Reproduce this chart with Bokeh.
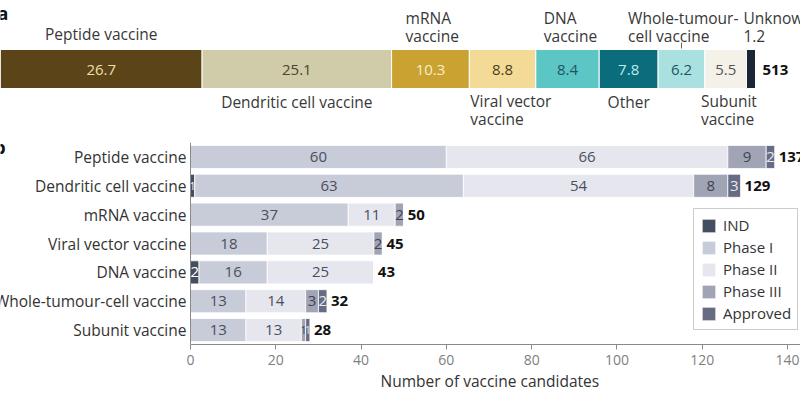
import numpy as np
from bokeh.plotting import figure
from bokeh.models import Range1d, ColumnDataSource, LabelSet, Label, FixedTicker, Span, Title
from bokeh.layouts import column
from bokeh.embed import file_html
from bokeh.resources import INLINE
from bokeh.core.properties import value

# ---------------- Panel a data ----------------
modalities = ["Peptide vaccine", "Dendritic cell vaccine", "mRNA vaccine",
              "Viral vector vaccine", "DNA vaccine", "Other",
              "Whole-tumour-cell vaccine", "Subunit vaccine", "Unknown"]
shares = [26.7, 25.1, 10.3, 8.8, 8.4, 7.8, 6.2, 5.5, 1.2]
share_labels = ["26.7", "25.1", "10.3", "8.8", "8.4", "7.8", "6.2", "5.5", ""]
modality_label_lines = [["Peptide vaccine"], ["Dendritic cell vaccine"], ["mRNA", "vaccine"],
                        ["Viral vector", "vaccine"], ["DNA", "vaccine"], ["Other"],
                        ["Whole-tumour-", "cell vaccine"], ["Subunit", "vaccine"], ["Unknown", "1.2"]]
total_candidates = "513"

# ---------------- Panel b data ----------------
categories = ["Peptide vaccine", "Dendritic cell vaccine", "mRNA vaccine",
              "Viral vector vaccine", "DNA vaccine", "Whole-tumour-cell vaccine",
              "Subunit vaccine"]
ind = [0, 1, 0, 0, 2, 0, 0]
phase1 = [60, 63, 37, 18, 16, 13, 13]
phase2 = [66, 54, 11, 25, 25, 14, 13]
phase3 = [9, 8, 2, 2, 0, 3, 1]
approved = [2, 3, 0, 0, 0, 2, 1]
totals = [137, 129, 50, 45, 43, 32, 28]
stages = ["IND", "Phase I", "Phase II", "Phase III", "Approved"]
x_ticks = [0, 20, 40, 60, 80, 100, 120, 140]
x_title = "Number of vaccine candidates"

FONT = "Open Sans"
LABEL_SIZE = "15.5px"

# ---------------- styles ----------------
mod_colors = ["#5a4418", "#d0cba9", "#c9a232", "#f3da96", "#5cc6c5",
              "#0b6c7c", "#a9e1e0", "#f4f1e8", "#1b2634"]
mod_text_colors = ["#f1dea4", "#4a4532", "#fbeec4", "#4a3f22", "#1d5661",
                   "#b9ecec", "#1d5661", "#555555", "#ffffff"]
# (side, align, pixel offset) for segment name labels
placement = [("above", "center", 0), ("below", "center", 0), ("above", "left", 14),
             ("below", "left", 1), ("above", "left", 8), ("below", "center", 0),
             ("above", "left", -30), ("below", "left", -4), ("above", "left", -3)]

stage_colors = ["#454d60", "#c8cbd8", "#e6e7ee", "#a0a4b4", "#666c83"]
stage_text_colors = ["#ffffff", "#4a4f5e", "#4a4f5e", "#3e4352", "#e8e9f0"]

# ---------------- Panel a figure ----------------
A_SCALE = 7.55  # px per percentage point
top = figure(width=800, height=130, x_range=Range1d(0, 800 / A_SCALE),
             y_range=Range1d(130, 0), output_backend="svg", toolbar_location=None,
             min_border=0, x_axis_location=None, y_axis_location=None,
             outline_line_color=None)
top.grid.visible = False

sh = np.array(shares)
rights = np.cumsum(sh)
lefts = rights - sh
mids = (lefts + rights) / 2

top.hbar(y=68.5, left=lefts, right=rights, height=39, color=mod_colors,
         line_color="white", line_width=1)

top.text(x=mids[:-1], y=[69] * (len(sh) - 1), text=share_labels[:-1],
         text_color=mod_text_colors[:-1], text_align="center", text_baseline="middle",
         text_font=value(FONT), text_font_size="15px")

groups = {"left": ([], [], []), "center": ([], [], [])}
for i, lines in enumerate(modality_label_lines):
    side, align, off = placement[i]
    if side == "above":
        ys = [33] if len(lines) == 1 else [17, 35]
    else:
        ys = [101] if len(lines) == 1 else [100, 118]
    xa = (mids[i] if align == "center" else lefts[i]) + off / A_SCALE
    for ln, yy in zip(lines, ys):
        groups[align][0].append(xa)
        groups[align][1].append(yy)
        groups[align][2].append(ln)
for align, (xs, ys, ts) in groups.items():
    top.text(x=xs, y=ys, text=ts, text_align=align, text_baseline="middle",
             text_color="#383838", text_font=value(FONT), text_font_size=LABEL_SIZE)

# small leader tick for whole-tumour-cell vaccine
top.segment(x0=[mids[6]], y0=[42], x1=[mids[6]], y1=[48], line_color="#666666", line_width=1)

top.text(x=[rights[-1] + 7 / A_SCALE], y=[69], text=[total_candidates], text_align="left",
         text_baseline="middle", text_font=value(FONT), text_font_size="15px",
         text_font_style="bold", text_color="#111111")
top.text(x=[-3 / A_SCALE], y=[12], text=["a"], text_align="left", text_baseline="middle",
         text_font=value(FONT), text_font_size="18px", text_font_style="bold",
         text_color="#111111")

# ---------------- Panel b figure ----------------
n = len(categories)
idx = list(range(n))
B_SCALE = (787 - 190) / 140.0          # px per candidate
X0_PX = 190                            # pixel of value 0
bot = figure(width=800, height=270,
             x_range=Range1d(-X0_PX / B_SCALE, (800 - X0_PX) / B_SCALE),
             y_range=Range1d(n - 0.5, -0.5), output_backend="svg", toolbar_location=None,
             min_border_left=0, min_border_right=0, min_border_top=12,
             min_border_bottom=56, outline_line_color=None, y_axis_location=None)
bot.grid.visible = False

src = ColumnDataSource(dict(idx=idx, cat=categories, IND=ind, P1=phase1, P2=phase2,
                            P3=phase3, AP=approved, total=totals,
                            zero=[0] * n))
keys = ["IND", "P1", "P2", "P3", "AP"]
bot.hbar_stack(keys, y="idx", height=0.8, color=stage_colors, source=src,
               line_color="white", line_width=0.8, legend_label=stages)

# segment value labels
series = [ind, phase1, phase2, phase3, approved]
cum = np.zeros(n)
lx, ly, lt, lc, lf = [], [], [], [], []
for s, vals in enumerate(series):
    v = np.array(vals, dtype=float)
    for i in range(n):
        if v[i] > 0:
            lx.append(cum[i] + v[i] / 2)
            ly.append(i)
            lt.append(str(int(v[i])))
            lc.append(stage_text_colors[s])
            lf.append("15px" if v[i] > 1 else "10px")
    cum += v
seg_src = ColumnDataSource(dict(x=lx, y=ly, t=lt, c=lc, f=lf))
bot.text(x="x", y="y", text="t", text_color="c", text_font_size="f", source=seg_src,
         text_align="center", text_baseline="middle", text_font=value(FONT))

bot.add_layout(LabelSet(x="total", y="idx", text="total", source=src, x_offset=4,
                        text_align="left", text_baseline="middle", text_font=value(FONT),
                        text_font_size="15px", text_font_style="bold",
                        text_color="#111111"))
bot.add_layout(LabelSet(x="zero", y="idx", text="cat", source=src, x_offset=-4,
                        text_align="right", text_baseline="middle", text_font=value(FONT),
                        text_font_size=LABEL_SIZE, text_color="#333333"))
bot.add_layout(Label(x=-46, y=-0.36, text="b", text_align="left", text_baseline="middle",
                     text_font=FONT, text_font_size="18px",
                     text_font_style="bold", text_color="#111111"))

# vertical axis line at zero
bot.add_layout(Span(location=0, dimension="height", line_color="#8a8a8a", line_width=1))

xa = bot.xaxis[0]
xa.ticker = FixedTicker(ticks=x_ticks)
xa.bounds = (0, (800 - X0_PX) / B_SCALE)
xa.axis_line_color = "#8a8a8a"
xa.major_tick_line_color = "#8a8a8a"
xa.major_tick_in = 0
xa.major_tick_out = 5
xa.minor_tick_line_color = None
xa.major_label_text_font = FONT
xa.major_label_text_font_size = "14px"
xa.major_label_text_color = "#808080"
xa.major_label_standoff = 5

# x-axis title, placed under the 0-140 scale
bot.add_layout(Title(text=x_title, align="left", offset=380, standoff=1,
                     text_font=FONT, text_font_size=LABEL_SIZE, text_font_style="normal",
                     text_color="#333333"), "below")

lg = bot.legend[0]
lg.location = (693, 14)
lg.border_line_color = "#999999"
lg.border_line_width = 1
lg.background_fill_color = "white"
lg.background_fill_alpha = 1
lg.label_text_font = FONT
lg.label_text_font_size = "15px"
lg.label_text_color = "#333333"
lg.glyph_width = 17
lg.glyph_height = 17
lg.label_height = 17
lg.spacing = 2
lg.padding = 6
lg.margin = 0
lg.label_standoff = 6

layout = column(top, bot, spacing=0)
open("out.html", "w").write(file_html(layout, INLINE))
